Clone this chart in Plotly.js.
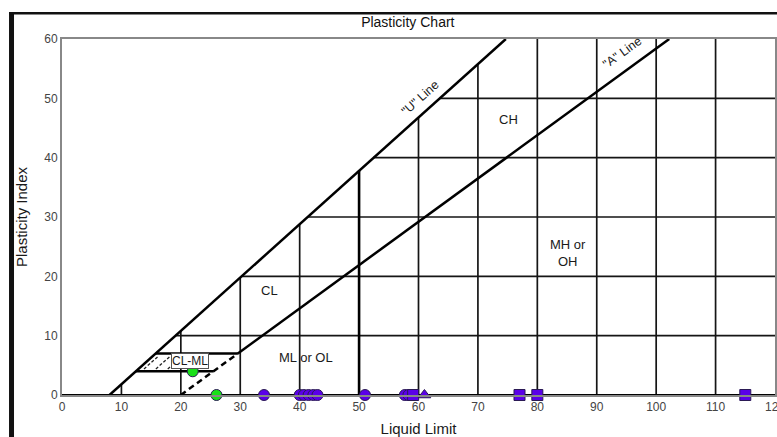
<!DOCTYPE html>
<html>
<head>
<meta charset="utf-8">
<script src="https://cdn.plot.ly/plotly-3.0.1.min.js"></script>
<style>
html,body{margin:0;padding:0;background:#fff;}
#chart{width:777px;height:437px;}
</style>
</head>
<body>
<div id="chart"></div>
<script>
// ---- Data ----
const xTicks = [0,10,20,30,40,50,60,70,80,90,100,110,120];
const yTicks = [0,10,20,30,40,50,60];

// "U" line and "A" line endpoints (Liquid Limit, Plasticity Index)
const uLineLL = [8, 74.7];
const uLinePI = [0, 60];
const aLineLL = [29.6, 102.2];
const aLinePI = [7, 60];
const aDashLL = [20, 25.5, 29.6];
const aDashPI = [0, 4, 7];

// CL-ML zone edges
const clmlTopLL = [15.8, 29.6];
const clmlTopPI = [7, 7];
const clmlBotLL = [12.4, 25.5];
const clmlBotPI = [4, 4];
const hatchLL = [13.8, 16.3, null, 15.8, 18.3, null, 17.8, 20.3];
const hatchPI = [4.4, 6.6, null, 4.4, 6.6, null, 4.4, 6.6];

// grid segments drawn below the U line
const vGridLL  = [10, 20, 30, 40, 60, 70, 80, 90, 100, 110];
const vGridTop = [1.8, 10.8, 19.8, 28.8, 46.8, 55.8, 60, 60, 60, 60];
const bold50LL = [50, 50];
const bold50PI = [0, 37.8];
const hGridPI    = [10, 20, 30, 40, 50];
const hGridStart = [19.1, 30.2, 41.3, 52.4, 63.6];
const baseLL = [0, 120];
const basePI = [0, 0];

// samples
const greenLL = [22, 26];
const greenPI = [4, 0];
const circLL = [34, 40, 40.7, 41.5, 42.3, 43, 51, 57.7, 58.3];
const circPI = [0, 0, 0, 0, 0, 0, 0, 0, 0];
const sqLL = [59.1, 77, 80, 115];
const sqPI = [0, 0, 0, 0];
const triLL = [61];
const triPI = [0];

// zone labels
const zoneText = ['CL', 'ML or OL', 'CH', 'MH or<br>OH'];
const zoneLL   = [35, 41, 75.2, 85.2];
const zonePI   = [17.6, 6.3, 46.4, 24];

// ---- build traces ----
function seg(xs, ys, color, width, dash) {
  return {x: xs, y: ys, mode: 'lines', type: 'scatter', hoverinfo: 'skip', showlegend: false,
          line: {color: color, width: width, dash: dash || 'solid'}, cliponaxis: true};
}
const traces = [];
// vertical grid
{
  const xs = [], ys = [];
  vGridLL.forEach((v, i) => { xs.push(v, v, null); ys.push(0, vGridTop[i], null); });
  traces.push(seg(xs, ys, '#151515', 1.7));
}
// horizontal grid
{
  const xs = [], ys = [];
  hGridPI.forEach((p, i) => { xs.push(hGridStart[i], 120, null); ys.push(p, p, null); });
  traces.push(seg(xs, ys, '#151515', 1.7));
}
traces.push(seg(bold50LL, bold50PI, '#000', 2.6));
traces.push(seg(baseLL, basePI, '#000', 1.8));
traces.push(seg(uLineLL, uLinePI, '#000', 2.5));
traces.push(seg(aLineLL, aLinePI, '#000', 2.5));
traces.push(seg(aDashLL, aDashPI, '#000', 2.5, '6px,4px'));
traces.push(seg(clmlTopLL, clmlTopPI, '#000', 2.4));
traces.push(seg(clmlBotLL, clmlBotPI, '#000', 2.4));
traces.push(seg(hatchLL, hatchPI, '#222', 1.3, '3px,2px'));

const purple = '#5a00e8';
function pts(xs, ys, color, symbol, size) {
  return {x: xs, y: ys, mode: 'markers', type: 'scatter', showlegend: false, cliponaxis: false,
          marker: {color: color, symbol: symbol, size: size, line: {color: '#2b1a55', width: 1}}};
}
traces.push(pts(greenLL, greenPI, '#19e019', 'circle', 11));
traces.push(pts(circLL, circPI, purple, 'circle', 11));
traces.push(pts(sqLL, sqPI, purple, 'square', 11));
traces.push(pts(triLL, triPI, purple, 'triangle-up', 11));

// ---- annotations ----
const FAM = 'Liberation Sans, Arial, sans-serif';
const txtFont = {family: FAM, size: 13, color: '#1a1a1a'};
const annotations = zoneText.map((t, i) => ({
  x: zoneLL[i], y: zonePI[i], xref: 'x', yref: 'y', text: t, showarrow: false, font: txtFont
}));
annotations.push({x: 21.5, y: 5.7, xref: 'x', yref: 'y', text: 'CL-ML', showarrow: false,
  font: {family: FAM, size: 12, color: '#1a1a1a'}, bgcolor: '#fff', bordercolor: '#555', borderwidth: 1, borderpad: 0});
annotations.push({x: 60.3, y: 50.0, xref: 'x', yref: 'y', text: '"U" Line', showarrow: false,
  textangle: -42, font: {family: FAM, size: 12.5, color: '#1a1a1a'}});
annotations.push({x: 94.2, y: 57.7, xref: 'x', yref: 'y', text: '"A" Line', showarrow: false,
  textangle: -36, font: {family: FAM, size: 12.5, color: '#1a1a1a'}});

// frame decoration (dark border of the original image)
const shapes = [
  {type: 'rect', xref: 'paper', yref: 'paper', x0: -0.0743, x1: -0.0673, y0: -0.2, y1: 1.0758,
   fillcolor: '#111', line: {width: 0}, layer: 'above'},
  {type: 'rect', xref: 'paper', yref: 'paper', x0: -0.0743, x1: 1.01, y0: 1.0688, y1: 1.0758,
   fillcolor: '#111', line: {width: 0}, layer: 'above'}
];

const layout = {
  width: 777, height: 437,
  margin: {l: 62, r: 2, t: 39, b: 42},
  paper_bgcolor: '#fff', plot_bgcolor: '#fff',
  font: {family: FAM, color: '#333'},
  title: {text: 'Plasticity Chart', x: 0.485, xref: 'paper', xanchor: 'center',
          y: 0.95, yref: 'container', yanchor: 'middle',
          font: {family: FAM, size: 14, color: '#111'}},
  xaxis: {range: [0, 120], tickvals: xTicks, ticktext: xTicks.map(String), showgrid: false, zeroline: false,
          showline: true, mirror: true, linecolor: '#888', linewidth: 2, ticks: '',
          ticklabeloverflow: 'allow',
          tickfont: {size: 12, color: '#444'},
          title: {text: 'Liquid Limit', standoff: 10, font: {size: 15, color: '#1a1a1a'}}},
  yaxis: {range: [0, 60], tickvals: yTicks, ticktext: yTicks.map(String), showgrid: false, zeroline: false,
          showline: true, mirror: true, linecolor: '#888', linewidth: 2, ticks: '',
          tickfont: {size: 12, color: '#444'},
          title: {text: 'Plasticity Index', standoff: 13, font: {size: 15, color: '#1a1a1a'}}},
  annotations: annotations,
  shapes: shapes
};

Plotly.newPlot('chart', traces, layout, {displayModeBar: false, staticPlot: true});
</script>
</body>
</html>
